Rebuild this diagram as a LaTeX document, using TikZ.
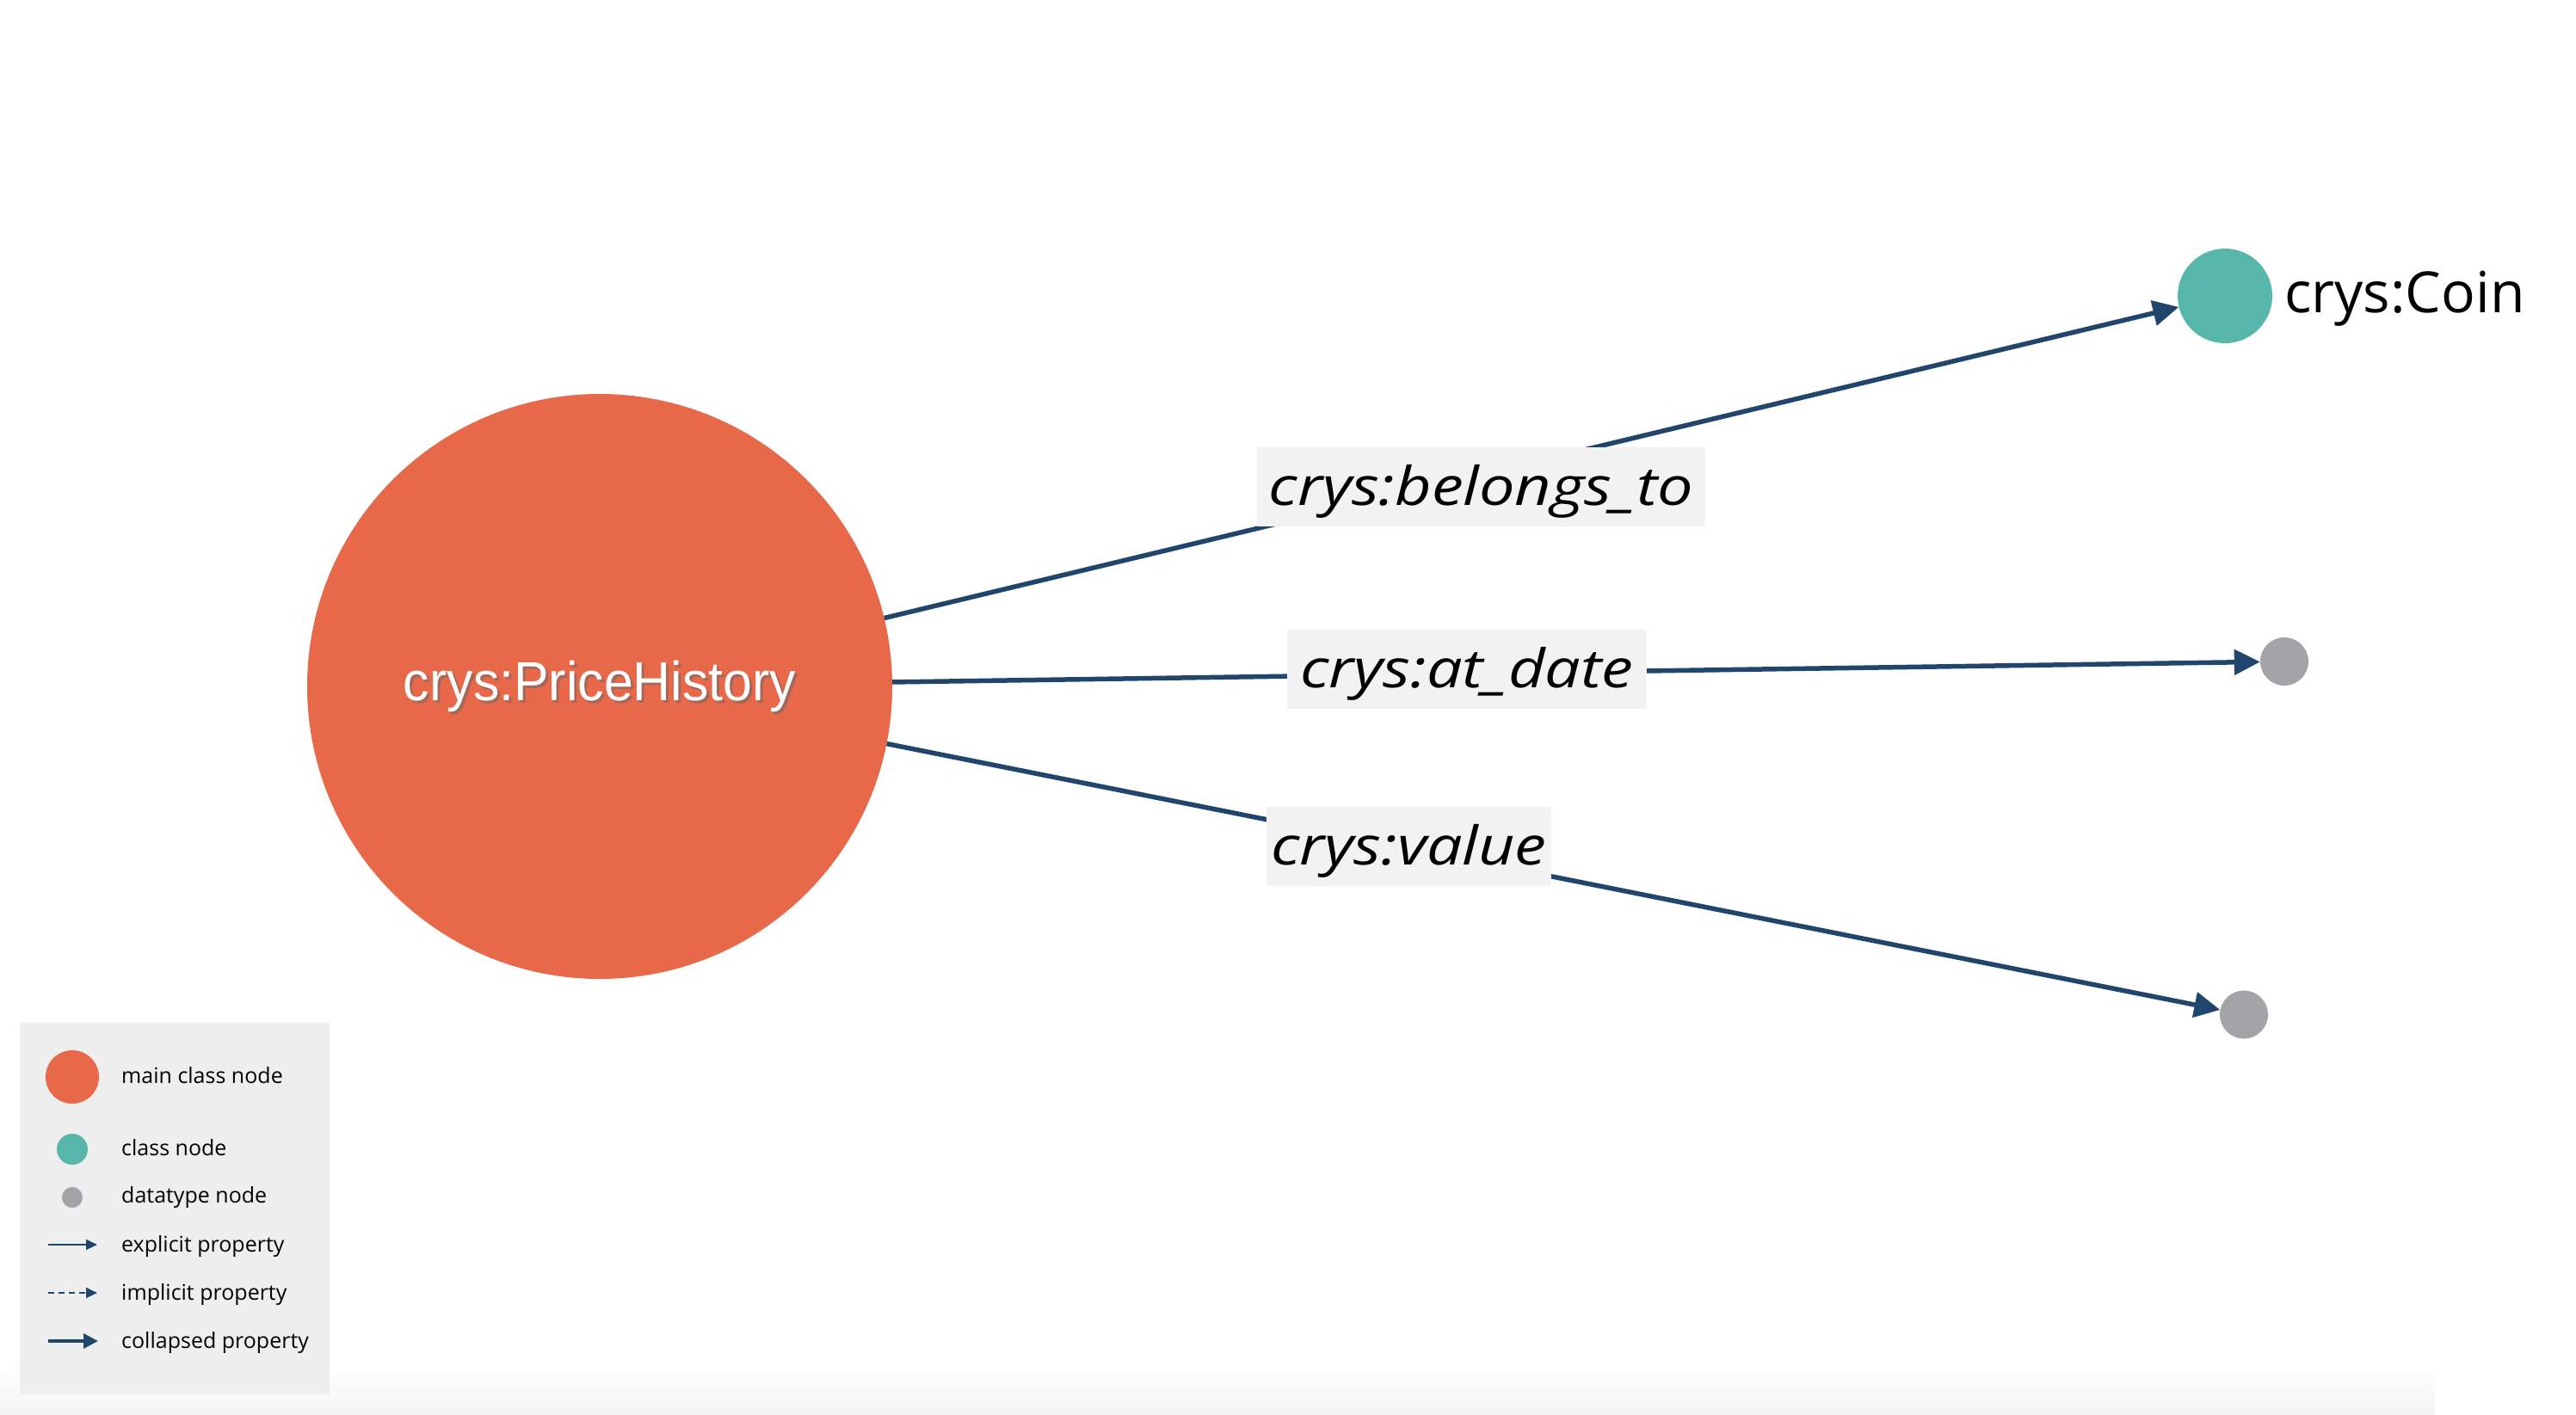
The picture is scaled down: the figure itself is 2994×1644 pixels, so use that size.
\documentclass[tikz,border=0pt]{standalone}
\usepackage{fontspec}
\setmainfont{Open Sans}
\newfontfamily\mainlabelfont{Liberation Sans}[FakeStretch=0.95]
\newfontfamily\edgelabelfont{Open Sans}[FakeStretch=1.19]
\usetikzlibrary{arrows.meta}
\definecolor{mainorange}{HTML}{E8694A}
\definecolor{classteal}{HTML}{57B7AA}
\definecolor{dtgray}{HTML}{A3A3A8}
\definecolor{edgeblue}{HTML}{21466E}
\definecolor{labelbg}{HTML}{F2F2F2}
\definecolor{legendbg}{HTML}{EEEEEE}
\definecolor{bandgray}{HTML}{F4F4F4}
\tikzset{
  dot/.style={circle, inner sep=0pt, minimum size=#1},
  edgeline/.style={draw=edgeblue, line width=5.5pt, -{Triangle[length=30pt,width=29pt]}},
  edgelabel/.style={fill=labelbg, inner sep=0pt, minimum height=92pt, text height=56pt, text depth=13pt,
    font=\edgelabelfont\fontsize{62}{66}\selectfont\itshape},
  legendtext/.style={anchor=base west, inner sep=0pt, font=\fontsize{25}{28}\selectfont},
  legendexplicit/.style={draw=edgeblue, line width=2pt, -{Triangle[length=13pt,width=12pt]}},
  legendimplicit/.style={draw=edgeblue, line width=2pt, dash pattern=on 7pt off 5pt, -{Triangle[length=13pt,width=12pt]}},
  legendcollapsed/.style={draw=edgeblue, line width=3.5pt, -{Triangle[length=17pt,width=17pt]}},
}
\begin{document}
\begin{tikzpicture}[x=1pt,y=-1pt]
\useasboundingbox (0,0) rectangle (2994,1644);
\fill[white] (0,0) rectangle (2994,1644);
\shade[top color=white, bottom color=bandgray] (0,1585) rectangle (2830,1644);

% main nodes
\node[dot=680pt, fill=mainorange] (main) at (697,798) {};
\node[inner sep=0pt, text=black!60, opacity=0.5, font=\mainlabelfont\fontsize{64}{70}\selectfont] at (700,801) {crys:PriceHistory};
\node[inner sep=0pt, text=white, font=\mainlabelfont\fontsize{64}{70}\selectfont] (mainlabel) at (697,798) {crys:PriceHistory};

\node[dot=110pt, fill=classteal] (coin) at (2586,344) {};
\node[anchor=base west, inner sep=0pt, font=\fontsize{66}{72}\selectfont] (coinlabel) at (2655,363) {crys:Coin};

\node[dot=56pt, fill=dtgray] (dt1) at (2655,769) {};
\node[dot=56pt, fill=dtgray] (dt2) at (2608,1179.5) {};

% edges
\draw[edgeline] (main) -- (coin);
\draw[edgeline] (main) -- (dt1);
\draw[edgeline] (main) -- (dt2);

% edge labels
\node[edgelabel, minimum width=521pt] (lbelongs) at (1721.5,566) {crys:belongs\_to};
\node[edgelabel, minimum width=418pt] (ldate) at (1705,778) {crys:at\_date};
\node[edgelabel, minimum width=331pt] (lvalue) at (1637.5,984) {crys:value};

% legend
\fill[legendbg] (23,1189) rectangle (383,1621);
\node[dot=62pt, fill=mainorange] (lgmain) at (84,1252) {};
\node[dot=36pt, fill=classteal] (lgclass) at (84,1336) {};
\node[dot=24pt, fill=dtgray] (lgdt) at (84,1392) {};
\coordinate (ea) at (56,1447); \coordinate (eb) at (113,1447);
\coordinate (ia) at (56,1503); \coordinate (ib) at (113,1503);
\coordinate (ca) at (56,1559); \coordinate (cb) at (114,1559);
\draw[legendexplicit] (ea) -- (eb);
\draw[legendimplicit] (ia) -- (ib);
\draw[legendcollapsed] (ca) -- (cb);
\node[legendtext] (t1) at (141,1259) {main class node};
\node[legendtext] (t2) at (141,1343) {class node};
\node[legendtext] (t3) at (141,1398) {datatype node};
\node[legendtext] (t4) at (141,1455) {explicit property};
\node[legendtext] (t5) at (141,1511) {implicit property};
\node[legendtext] (t6) at (141,1567) {collapsed property};
\end{tikzpicture}
\end{document}
